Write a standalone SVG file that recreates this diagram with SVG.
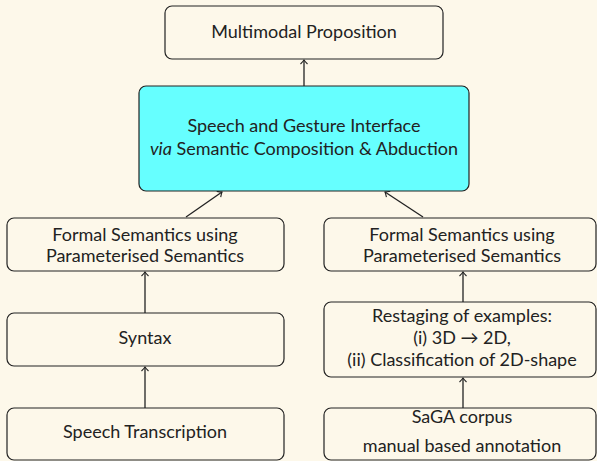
<svg xmlns="http://www.w3.org/2000/svg" width="597" height="461" viewBox="0 0 597 461">
<defs>
<style>
.box{fill:#fdf8ea;stroke:#222;stroke-width:1.2}
.cyan{fill:#66ffff;stroke:#222;stroke-width:1.2}
text{font-family:Lato,"DejaVu Sans",sans-serif;font-size:18px;fill:#222;text-anchor:middle}
.edge{stroke:#222;stroke-width:1.3;fill:none;marker-end:url(#hd)}
</style>
<marker id="hd" viewBox="-5 -5 7 10" markerWidth="7" markerHeight="10" refX="0" refY="0" orient="auto" markerUnits="userSpaceOnUse">
<path d="M-4,-3.5 Q-1.5,-1 0,0 Q-1.5,1 -4,3.5" fill="none" stroke="#222" stroke-width="1.1"/>
</marker>
</defs>
<rect width="597" height="461" fill="#fdf8ea"/>
<g id="connectors">
<line class="edge" x1="304" y1="86" x2="304" y2="60"/>
<line class="edge" x1="186" y1="217" x2="222" y2="192"/>
<line class="edge" x1="423" y1="217" x2="385" y2="192"/>
<line class="edge" x1="145" y1="313" x2="145" y2="272"/>
<line class="edge" x1="145" y1="408" x2="145" y2="367"/>
<line class="edge" x1="463" y1="302" x2="463" y2="272"/>
<line class="edge" x1="463" y1="408" x2="463" y2="378"/>
</g>
<g id="n-proposition">
<rect class="box" x="165" y="6" width="278" height="53" rx="7"/>
<text x="304" y="38">Multimodal Proposition</text>
</g>
<g id="n-interface">
<rect class="cyan" x="139" y="86" width="330" height="105" rx="7"/>
<text x="304" y="132">Speech and Gesture Interface</text>
<text x="304" y="155"><tspan font-style="italic">via</tspan> Semantic Composition &amp; Abduction</text>
</g>
<g id="n-formal-left">
<rect class="box" x="7" y="218" width="277" height="53" rx="7"/>
<text x="145" y="241">Formal Semantics using</text>
<text x="145" y="262">Parameterised Semantics</text>
</g>
<g id="n-syntax">
<rect class="box" x="7" y="313" width="277" height="53" rx="7"/>
<text x="145" y="344">Syntax</text>
</g>
<g id="n-speech">
<rect class="box" x="7" y="408" width="277" height="52" rx="7"/>
<text x="145" y="438">Speech Transcription</text>
</g>
<g id="n-formal-right">
<rect class="box" x="324" y="218" width="272" height="53" rx="7"/>
<text x="462" y="241">Formal Semantics using</text>
<text x="462" y="262">Parameterised Semantics</text>
</g>
<g id="n-restaging">
<rect class="box" x="324" y="302" width="272" height="75" rx="7"/>
<text x="462" y="322">Restaging of examples:</text>
<text x="462" y="344">(i) 3D → 2D,</text>
<text x="462" y="366">(ii) Classification of 2D-shape</text>
</g>
<g id="n-saga">
<rect class="box" x="324" y="408" width="272" height="52" rx="7"/>
<text x="462" y="423">SaGA corpus</text>
<text x="462" y="452">manual based annotation</text>
</g>
</svg>
